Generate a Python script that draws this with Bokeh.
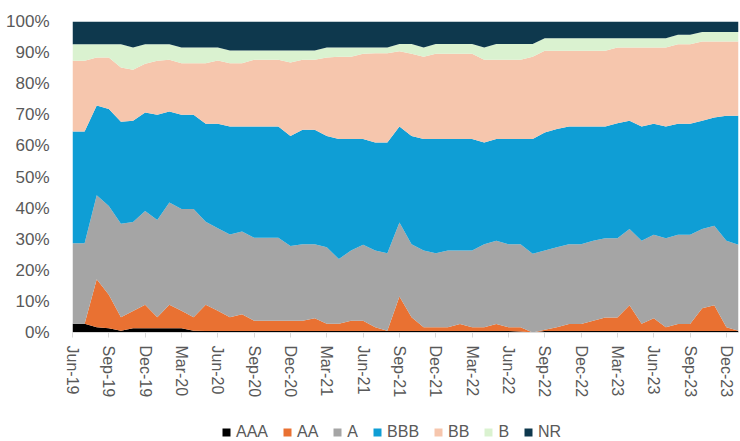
from bokeh.plotting import figure
from bokeh.layouts import column
from bokeh.models import (ColumnDataSource, Range1d, FixedTicker, NumeralTickFormatter,
                          Legend, LegendItem)
from bokeh.embed import file_html
from bokeh.resources import INLINE

# Monthly shares (%) Jun-19 .. Jan-24
AAA = [2.8, 2.8, 1.7, 1.4, 0.6, 1.4, 1.4, 1.4, 1.4, 1.4, 0.6, 0.5,
       0.5, 0.5, 0.5, 0.5, 0.5, 0.5, 0.5, 0.5, 0.5, 0.5, 0.5, 0.5,
       0.5, 0.5, 0.5, 0.5, 0.5, 0.5, 0.5, 0.5, 0.5, 0.5, 0.5, 0.5,
       0.5, 0.3, 0.0, 0.5, 0.5, 0.5, 0.5, 0.5, 0.5, 0.5, 0.5, 0.5,
       0.5, 0.5, 0.5, 0.5, 0.5, 0.5, 0.5, 0.5]
AA = [0.0, 0.0, 15.4, 10.7, 4.3, 5.5, 7.5, 3.5, 7.5, 5.6, 4.3, 8.4,
      6.5, 4.4, 5.4, 3.3, 3.3, 3.3, 3.3, 3.3, 4.1, 2.3, 2.3, 3.3,
      3.3, 1.2, 0.1, 11.1, 4.4, 1.2, 1.2, 1.2, 2.2, 1.2, 1.2, 2.2,
      1.2, 1.4, 0.0, 0.4, 1.2, 2.2, 2.2, 3.3, 4.3, 4.3, 8.3, 2.3,
      4.1, 1.2, 2.2, 2.2, 7.3, 8.3, 1.2, 0.1]
A = [25.9, 25.9, 27.0, 28.6, 30.1, 28.6, 30.2, 31.3, 32.9, 32.7, 34.8, 26.7,
     26.5, 26.6, 26.6, 26.7, 26.7, 26.7, 24.0, 24.6, 23.8, 24.6, 20.8, 22.6,
     24.4, 24.7, 24.9, 23.8, 23.5, 24.7, 23.8, 24.7, 23.7, 24.7, 26.7, 26.8,
     26.7, 26.7, 25.3, 25.5, 25.7, 25.7, 25.7, 25.7, 25.5, 25.5, 24.5, 26.7,
     26.8, 28.6, 28.7, 28.7, 25.5, 25.5, 27.8, 27.6]
BBB = [35.9, 35.9, 28.9, 31.2, 32.8, 32.6, 31.6, 33.8, 29.3, 30.3, 30.3, 31.5,
       33.6, 34.7, 33.7, 35.7, 35.7, 35.7, 35.4, 36.8, 36.8, 35.8, 38.6, 35.8,
       34.0, 34.7, 35.6, 30.8, 34.8, 35.8, 36.7, 35.8, 35.8, 35.8, 32.7, 32.7,
       33.8, 33.8, 36.9, 37.9, 38.0, 37.8, 37.8, 36.7, 35.9, 37.0, 34.8, 36.7,
       35.7, 35.9, 35.7, 35.7, 34.8, 34.8, 40.2, 41.5]
BB = [22.8, 22.8, 15.4, 16.5, 17.4, 16.4, 15.7, 17.4, 16.6, 16.6, 16.6, 19.5,
      20.4, 20.4, 20.4, 21.5, 21.5, 21.5, 23.6, 22.5, 22.5, 25.2, 26.5, 26.5,
      27.4, 28.7, 28.7, 24.2, 26.4, 26.5, 27.4, 27.4, 27.4, 27.4, 26.6, 25.5,
      25.5, 25.5, 26.5, 26.3, 25.2, 24.4, 24.4, 24.4, 24.4, 24.3, 23.5, 25.4,
      24.5, 25.4, 25.6, 25.6, 25.5, 24.5, 23.9, 23.9]
B = [5.3, 5.3, 4.3, 4.3, 7.5, 7.1, 6.3, 5.3, 5.0, 5.0, 5.0, 5.0,
     4.1, 4.1, 4.1, 3.0, 3.0, 3.0, 3.9, 3.0, 3.0, 3.2, 2.9, 2.9,
     2.0, 1.8, 1.8, 2.4, 3.2, 2.9, 3.2, 3.2, 3.2, 3.2, 3.9, 5.1,
     5.1, 5.1, 4.1, 4.0, 4.0, 4.0, 4.0, 4.0, 4.0, 3.0, 3.0, 3.0,
     3.0, 3.0, 3.0, 3.0, 3.0, 3.0, 3.0, 3.0]
NR = [7.3, 7.3, 7.3, 7.3, 7.3, 8.4, 7.3, 7.3, 7.3, 8.4, 8.4, 8.4,
      8.4, 9.3, 9.3, 9.3, 9.3, 9.3, 9.3, 9.3, 9.3, 8.4, 8.4, 8.4,
      8.4, 8.4, 8.4, 7.2, 7.2, 8.4, 7.2, 7.2, 7.2, 7.2, 8.4, 7.2,
      7.2, 7.2, 7.2, 5.4, 5.4, 5.4, 5.4, 5.4, 5.4, 5.4, 5.4, 5.4,
      5.4, 5.4, 4.3, 4.3, 3.4, 3.4, 3.4, 3.4]

tick_labels = ["Jun-19", "Sep-19", "Dec-19", "Mar-20", "Jun-20", "Sep-20", "Dec-20",
               "Mar-21", "Jun-21", "Sep-21", "Dec-21", "Mar-22", "Jun-22", "Sep-22",
               "Dec-22", "Mar-23", "Jun-23", "Sep-23", "Dec-23"]

names = ["AAA", "AA", "A", "BBB", "BB", "B", "NR"]
series = [AAA, AA, A, BBB, BB, B, NR]
colors = ["#000000", "#E97132", "#A5A5A5", "#0F9ED5", "#F6C6AD", "#DAF2D0", "#0E384D"]

n = len(AAA)
data = {"x": list(range(n))}
for nm, s in zip(names, series):
    data[nm] = [v / 100.0 for v in s]
src = ColumnDataSource(data)

FONT = "Liberation Sans"
TXT = "#595959"

# ---- main chart ----
p = figure(width=740, height=402, output_backend="svg", toolbar_location=None,
           x_range=Range1d(0, n - 1), y_range=Range1d(0, 1),
           min_border_left=72, min_border_right=2, min_border_top=21,
           min_border_bottom=70)
p.outline_line_color = None
p.grid.visible = False
p.background_fill_color = "white"
p.border_fill_color = "white"

p.varea_stack(stackers=names, x="x", color=colors, source=src)

tick_pos = [3 * k for k in range(len(tick_labels))]
p.xaxis.ticker = FixedTicker(ticks=tick_pos)
p.xaxis.major_label_overrides = {t: lab for t, lab in zip(tick_pos, tick_labels)}
p.xaxis.major_label_orientation = "vertical"
p.xaxis.axis_line_color = "#D9D9D9"
p.xaxis.major_tick_line_color = "#D9D9D9"
p.xaxis.major_tick_in = 0
p.xaxis.major_tick_out = 5
p.xaxis.minor_tick_line_color = None
p.xaxis.major_label_standoff = 8
p.xaxis.major_label_text_font = FONT
p.xaxis.major_label_text_font_size = "16px"
p.xaxis.major_label_text_color = TXT

p.yaxis.ticker = FixedTicker(ticks=[k / 10 for k in range(11)])
p.yaxis.formatter = NumeralTickFormatter(format="0%")
p.yaxis.axis_line_color = None
p.yaxis.major_tick_line_color = None
p.yaxis.minor_tick_line_color = None
p.yaxis.major_label_standoff = 17
p.yaxis.major_label_text_font = FONT
p.yaxis.major_label_text_font_size = "17px"
p.yaxis.major_label_text_color = TXT

# ---- legend strip (same series, drawn out of view; only the legend shows) ----
p2 = figure(width=740, height=39, output_backend="svg", toolbar_location=None,
            x_range=Range1d(1000, 1001), y_range=Range1d(0, 1),
            x_axis_location=None, y_axis_location=None,
            min_border_left=0, min_border_right=0, min_border_top=0,
            min_border_bottom=0)
p2.outline_line_color = None
p2.grid.visible = False
p2.background_fill_color = "white"
p2.border_fill_color = "white"
rs2 = p2.varea_stack(stackers=names, x="x", color=colors, source=src)

legend = Legend(items=[LegendItem(label=nm, renderers=[r]) for nm, r in zip(names, rs2)],
                orientation="horizontal", location=(149, 0),
                padding=0, margin=0, spacing=14, label_standoff=5,
                glyph_width=10, glyph_height=10, label_height=10, label_width=0,
                label_text_font=FONT, label_text_font_size="16px",
                label_text_color=TXT, border_line_color=None,
                background_fill_alpha=0)
p2.add_layout(legend, "center")

layout = column(p, p2, spacing=0)
open("out.html", "w").write(file_html(layout, INLINE))
